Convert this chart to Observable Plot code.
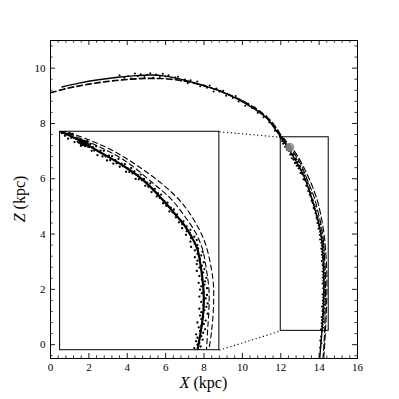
<!DOCTYPE html>
<html><head><meta charset="utf-8">
<script src="https://cdn.jsdelivr.net/npm/d3@7"></script>
<script src="https://cdn.jsdelivr.net/npm/@observablehq/plot@0.6"></script>
<style>
body{margin:0;background:#fff;}
#wrap{position:relative;width:399px;height:399px;overflow:hidden;}
#wrap svg{display:block;}
#wrap svg text{font-family:"Liberation Serif","DejaVu Serif","Times New Roman",serif !important;}
</style></head><body><div id="wrap"></div>
<script>
// Tick labels
const xMajor = [0, 2, 4, 6, 8, 10, 12, 14, 16];
const yMajor = [0, 2, 4, 6, 8, 10];
const xMinor = d3.range(41).filter(i => i % 5 !== 0).map(i => +(i * 0.4).toFixed(1));
const yMinor = d3.range(-1, 28).filter(i => i % 5 !== 0).map(i => +(i * 0.4).toFixed(1));

// Orbit (solid) and two model orbits (dashed), [X, Z] in kpc
const solidOrbit = [[0.6,9.32],[1.5,9.46],[2.5,9.58],[3.5,9.67],[4.5,9.73],[5.2,9.75],[6.0,9.71],[6.9,9.58],[7.8,9.41],[8.7,9.21],[9.6,8.93],[10.4,8.62],[10.9,8.4],[11.3,8.17],[11.6,7.9],[11.85,7.66],[12.0,7.5],[12.15,7.36],[12.3,7.21],[12.45,7.04],[12.6,6.86],[12.8,6.63],[13.0,6.38],[13.2,6.1],[13.4,5.75],[13.6,5.32],[13.8,4.85],[13.95,4.48],[14.06,4.12],[14.15,3.72],[14.2,3.2],[14.24,2.55],[14.25,2.0],[14.23,1.48],[14.19,0.95],[14.15,0.5],[14.09,0.0],[14.03,-0.5]];
const dashedOrbitA = [[0.0,9.12],[1.0,9.3],[2.0,9.43],[3.0,9.53],[4.0,9.6],[5.0,9.64],[6.0,9.62],[7.0,9.53],[8.0,9.36],[9.0,9.12],[10.0,8.8],[10.8,8.47],[11.4,8.12],[11.75,7.82],[12.04,7.52],[12.32,7.27],[12.64,6.98],[13.03,6.54],[13.46,5.83],[13.73,5.35],[13.93,4.84],[14.12,4.26],[14.23,3.72],[14.29,3.08],[14.33,2.44],[14.33,1.8],[14.31,1.16],[14.29,0.5],[14.25,0.0],[14.2,-0.5]];
const dashedOrbitB = [[0.0,9.1],[1.0,9.28],[2.0,9.41],[3.0,9.51],[4.0,9.58],[5.0,9.62],[6.0,9.61],[7.0,9.53],[8.0,9.37],[9.0,9.14],[10.0,8.83],[10.8,8.5],[11.4,8.16],[11.78,7.84],[12.07,7.52],[12.40,7.27],[12.79,6.92],[13.18,6.44],[13.57,5.86],[13.89,5.25],[14.09,4.68],[14.25,4.04],[14.34,3.4],[14.40,2.6],[14.40,1.8],[14.37,1.07],[14.33,0.5],[14.29,0.0],[14.24,-0.5]];

// Stream particles, [X, Z]
const particlesArc = [[3.6,9.74],[3.85,9.65],[4.05,9.72],[4.2,9.63],[4.4,9.81],[4.55,9.71],[4.7,9.78],[4.9,9.68],[5.05,9.76],[5.2,9.82],[5.35,9.65],[5.5,9.77],[5.7,9.68],[5.85,9.8],[6.0,9.7],[6.15,9.74],[6.3,9.6],[6.5,9.66],[6.65,9.69],[6.8,9.54],[7.0,9.59],[7.15,9.45],[7.3,9.56],[7.5,9.45],[7.65,9.52],[7.8,9.35],[8.0,9.38],[8.15,9.29],[8.3,9.37],[8.5,9.16],[8.65,9.26],[8.8,9.16],[9.0,9.18],[9.15,9.0],[9.3,9.04],[9.5,8.92],[9.65,8.99],[9.8,8.79],[10.0,8.81],[10.15,8.64],[10.3,8.71],[10.5,8.56],[10.65,8.58],[10.8,8.39],[10.95,8.39],[11.1,8.22],[11.25,8.26],[11.4,8.04],[11.55,8.02],[11.7,7.74],[11.85,7.71],[11.95,7.52]];
const particlesBox = [[12.02,7.45],[12.05,7.5],[12.07,7.36],[12.1,7.43],[12.12,7.27],[12.14,7.44],[12.17,7.3],[12.19,7.42],[12.22,7.16],[12.24,7.28],[12.27,7.17],
[12.29,7.23],[12.3,7.15],[12.31,7.19],[12.32,7.1],[12.33,7.17],[12.34,7.22],[12.34,7.12],[12.35,7.06],[12.36,7.15],[12.37,7.19],[12.37,7.09],[12.38,7.13],[12.39,7.03],[12.4,7.17],[12.4,7.1],[12.41,7.06],[12.42,7.13],[12.43,7.02],[12.44,7.09],[12.45,7.0],[12.32,7.04],[12.35,7.12],
[12.31,7.24],[12.33,7.07],[12.36,7.2],[12.38,7.06],[12.39,7.16],[12.41,7.1],[12.42,7.19],[12.44,7.03],[12.29,7.14],[12.35,7.18],
[12.47,7.1],[12.49,6.88],[12.51,7.0],[12.53,6.89],[12.56,7.03],[12.58,6.74],[12.61,6.85],[12.63,6.89],[12.66,6.7],[12.68,6.88],[12.71,6.7],[12.73,6.57],[12.76,6.73],[12.78,6.58],[12.81,6.71],[12.83,6.47],[12.86,6.58],[12.88,6.48],[12.91,6.62],[12.93,6.37],[12.96,6.47],[12.98,6.39],[13.01,6.45],[13.03,6.21],[13.06,6.31],[13.08,6.2],[13.11,6.33],[13.13,6.16],[13.16,6.22],[13.18,5.98],[13.21,6.11],[13.23,5.97],[13.26,6.12],[13.28,5.94],[13.31,5.98],[13.33,5.76],[13.36,5.86],[13.38,5.73],[13.41,5.84],[13.43,5.56],[13.46,5.62],[13.48,5.66],[13.51,5.42],[13.53,5.52],[13.56,5.37],[13.58,5.48],[13.61,5.2],[13.63,5.27],[13.66,5.12],[13.68,5.22],[13.71,4.94],[13.73,5.06],[13.76,4.91],[13.78,5.0],[13.81,4.75],[13.83,4.84],[13.86,4.59],[13.88,4.67],[13.91,4.53],[13.93,4.62],
[13.98,4.46],[13.91,4.4],[14.04,4.35],[13.98,4.3],[14.03,4.24],[13.97,4.19],[14.1,4.13],[14.05,4.08],[14.14,4.02],[14.04,3.97],[14.11,3.91],[14.15,3.86],[14.05,3.8],[14.16,3.75],[14.11,3.69],[14.23,3.64],[14.15,3.58],[14.21,3.53],[14.11,3.47],[14.19,3.42],[14.15,3.36],[14.25,3.31],[14.14,3.25],[14.22,3.2],[14.18,3.14],[14.26,3.09],[14.14,3.03],[14.24,2.98],[14.22,2.92],[14.18,2.87],[14.29,2.81],[14.22,2.76],[14.27,2.7],[14.17,2.65],[14.26,2.59],[14.21,2.54],[14.3,2.48],[14.19,2.43],[14.25,2.37],[14.22,2.32],[14.3,2.26],[14.18,2.21],[14.28,2.15],[14.25,2.1],[14.21,2.04],[14.31,1.99],[14.24,1.93],[14.29,1.88],[14.18,1.82],[14.26,1.77],[14.21,1.71],[14.31,1.66],[14.19,1.6],[14.24,1.55],[14.21,1.49],[14.28,1.44],[14.15,1.38],[14.25,1.33],[14.21,1.27],[14.17,1.22],[14.27,1.16],[14.19,1.11],[14.24,1.05],[14.13,1.0],[14.21,0.94],[14.15,0.89],[14.23,0.83],[14.13,0.78],[14.18,0.72],[14.15,0.67],[14.2,0.61],[14.1,0.56],[14.17,0.5]];
const particlesLow = [[14.1,0.3],[14.06,0.15],[14.12,0.05],[14.05,-0.1]];
const particles = [...particlesArc, ...particlesBox, ...particlesLow];
const progenitor = [[12.47, 7.14]];

// Zoom box (data) and inset placement (in main-axes data coords)
const zoomBox = [{x1: 12, x2: 14.5, y1: 0.5, y2: 7.5}];
const insetBox = [{x1: 0.5, x2: 8.8, y1: -0.2, y2: 7.7}];
const connectors = [{x1: 8.8, y1: 7.7, x2: 12, y2: 7.5}, {x1: 8.8, y1: -0.2, x2: 12, y2: 0.5}];

const W = 399, H = 399, mL = 50, mR = 42, mT = 40, mB = 41;
const fw = W - mL - mR, fh = H - mT - mB;
const serif = "'Liberation Serif', 'DejaVu Serif', 'Times New Roman', serif";
const px = d => d[0], pz = d => d[1];

const mainPlot = Plot.plot({
  width: W, height: H,
  marginLeft: mL, marginRight: mR, marginTop: mT, marginBottom: mB,
  style: {fontFamily: serif, fontSize: "11px", color: "black", background: "white"},
  x: {domain: [0, 16], label: null},
  y: {domain: [-0.5, 11], label: null},
  marks: [
    Plot.ruleX(xMajor, {insetTop: fh - 5, stroke: "black", strokeWidth: 0.9}),
    Plot.ruleX(xMajor, {insetBottom: fh - 5, stroke: "black", strokeWidth: 0.9}),
    Plot.ruleX(xMinor, {insetTop: fh - 2.6, stroke: "black", strokeWidth: 0.8}),
    Plot.ruleX(xMinor, {insetBottom: fh - 2.6, stroke: "black", strokeWidth: 0.8}),
    Plot.ruleY(yMajor, {insetRight: fw - 5, stroke: "black", strokeWidth: 0.9}),
    Plot.ruleY(yMajor, {insetLeft: fw - 5, stroke: "black", strokeWidth: 0.9}),
    Plot.ruleY(yMinor, {insetRight: fw - 2.6, stroke: "black", strokeWidth: 0.8}),
    Plot.ruleY(yMinor, {insetLeft: fw - 2.6, stroke: "black", strokeWidth: 0.8}),
    Plot.axisX(xMajor, {tickSize: 0, tickPadding: 5, label: null, fill: "black"}),
    Plot.axisY(yMajor, {tickSize: 0, tickPadding: 5, label: null, fill: "black"}),
    Plot.line(dashedOrbitA, {x: px, y: pz, stroke: "black", strokeWidth: 1.1, strokeDasharray: "6,3", curve: "catmull-rom", clip: true}),
    Plot.line(dashedOrbitB, {x: px, y: pz, stroke: "black", strokeWidth: 1.1, strokeDasharray: "6,3", curve: "catmull-rom", clip: true}),
    Plot.line(solidOrbit, {x: px, y: pz, stroke: "black", strokeWidth: 1.4, curve: "catmull-rom", clip: true}),
    Plot.dot(particles, {x: px, y: pz, r: 1.0, fill: "black", stroke: "none", clip: true}),
    Plot.dot(progenitor, {x: px, y: pz, r: 4.5, fill: "#8c8c8c", fillOpacity: 0.85, stroke: "none"}),
    Plot.rect(zoomBox, {x1: "x1", x2: "x2", y1: "y1", y2: "y2", fill: "none", stroke: "black", strokeWidth: 1}),
    Plot.link(connectors, {x1: "x1", y1: "y1", x2: "x2", y2: "y2", stroke: "black", strokeWidth: 1.1, strokeDasharray: "1.2,2.6"}),
    Plot.rect(insetBox, {x1: "x1", x2: "x2", y1: "y1", y2: "y2", fill: "white", stroke: "black", strokeWidth: 1}),
    Plot.frame({stroke: "black", strokeWidth: 1})
  ]
});

const wrap = document.getElementById("wrap");
wrap.appendChild(mainPlot);

// Axis titles with italic variable names
const svgSel = d3.select(mainPlot);
const xt = svgSel.append("text").attr("x", mL + fw / 2).attr("y", 388)
  .attr("text-anchor", "middle").attr("fill", "black")
  .style("font-family", serif).style("font-size", "16px");
xt.append("tspan").attr("font-style", "italic").text("X");
xt.append("tspan").text(" (kpc)");
const yt = svgSel.append("text").attr("transform", `translate(25,${mT + fh / 2}) rotate(-90)`)
  .attr("text-anchor", "middle").attr("fill", "black")
  .style("font-family", serif).style("font-size", "16px");
yt.append("tspan").attr("font-style", "italic").text("Z");
yt.append("tspan").text(" (kpc)");

// Inset axes: magnified view of the zoom box
const sx = mainPlot.scale("x"), sy = mainPlot.scale("y");
const insLeft = sx.apply(insetBox[0].x1), insRight = sx.apply(insetBox[0].x2);
const insTop = sy.apply(insetBox[0].y2), insBottom = sy.apply(insetBox[0].y1);
const iw = insRight - insLeft, ih = insBottom - insTop;
const insetPlot = Plot.plot({
  width: iw, height: ih,
  margin: 0,
  style: {background: "transparent", overflow: "hidden"},
  x: {domain: [zoomBox[0].x1, zoomBox[0].x2], axis: null},
  y: {domain: [zoomBox[0].y1, zoomBox[0].y2], axis: null},
  marks: [
    Plot.line(dashedOrbitA, {x: px, y: pz, stroke: "black", strokeWidth: 1.1, strokeDasharray: "5,3.5", curve: "catmull-rom", clip: true}),
    Plot.line(dashedOrbitB, {x: px, y: pz, stroke: "black", strokeWidth: 1.1, strokeDasharray: "5,3.5", curve: "catmull-rom", clip: true}),
    Plot.dot(particles, {x: px, y: pz, r: 1.15, fill: "black", stroke: "none", clip: true}),
    Plot.line(solidOrbit, {x: px, y: pz, stroke: "black", strokeWidth: 2.2, curve: "catmull-rom", clip: true})
  ]
});
insetPlot.style.position = "absolute";
insetPlot.style.left = insLeft + "px";
insetPlot.style.top = insTop + "px";
wrap.appendChild(insetPlot);
</script>
</body></html>
